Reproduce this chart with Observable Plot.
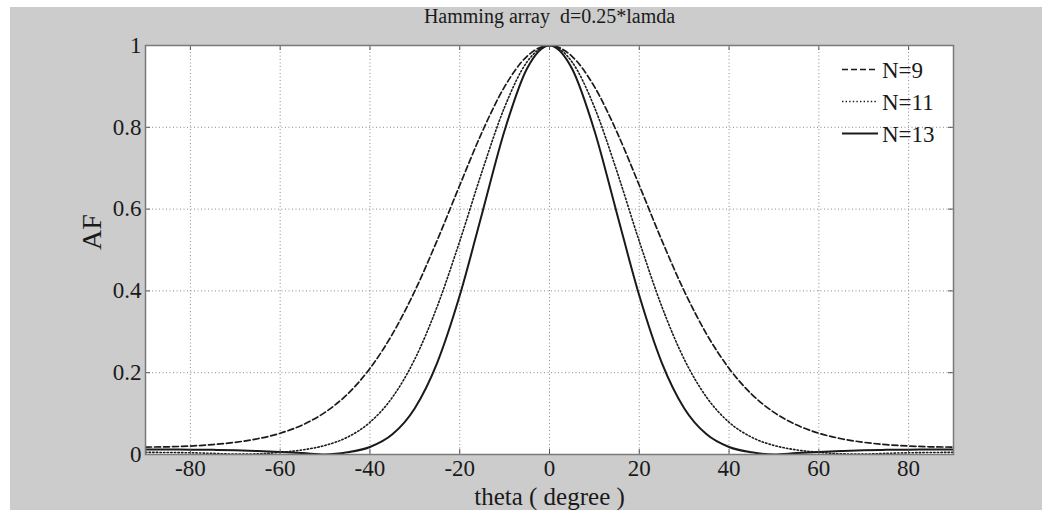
<!DOCTYPE html>
<html><head><meta charset="utf-8">
<script src="https://cdn.jsdelivr.net/npm/d3@7"></script>
<script src="https://cdn.jsdelivr.net/npm/@observablehq/plot@0.6"></script>
<style>
html,body{margin:0;padding:0;background:#fff;}
#wrap{position:relative;width:1042px;height:510px;overflow:hidden;}
#bg{position:absolute;left:10px;top:7px;right:0;bottom:0;background:#cccccc;}
#chart{position:absolute;left:0;top:0;}
</style></head><body>
<div id="wrap"><div id="bg"></div><div id="chart"></div></div>
<script>
// theta (degree)
const theta = [-90,-85,-80,-75,-70,-65,-60,-55,-50,-45,-40,-35,-30,-25,-20,-15,-10,-5,0,5,10,15,20,25,30,35,40,45,50,55,60,65,70,75,80,85,90];
// Array factor, N=9
const af9 = [0.0182,0.0188,0.0207,0.0242,0.0298,0.0386,0.0520,0.0725,0.1031,0.1477,0.2105,0.2943,0.4000,0.5241,0.6582,0.7888,0.8994,0.9737,1,
             0.9737,0.8994,0.7888,0.6582,0.5241,0.4000,0.2943,0.2105,0.1477,0.1031,0.0725,0.0520,0.0386,0.0298,0.0242,0.0207,0.0188,0.0182];
// Array factor, N=11
const af11 = [0.0052,0.0049,0.0042,0.0028,0.0010,0.0016,0.0053,0.0113,0.0222,0.0424,0.0788,0.1398,0.2333,0.3624,0.5214,0.6929,0.8494,0.9600,1,
              0.9600,0.8494,0.6929,0.5214,0.3624,0.2333,0.1398,0.0788,0.0424,0.0222,0.0113,0.0053,0.0016,0.0010,0.0028,0.0042,0.0049,0.0052];
// Array factor, N=13
const af13 = [0.0122,0.0121,0.0119,0.0114,0.0103,0.0085,0.0062,0.0035,0.0002,0.0053,0.0183,0.0493,0.1133,0.2247,0.3886,0.5901,0.7921,0.9436,1,
              0.9436,0.7921,0.5901,0.3886,0.2247,0.1133,0.0493,0.0183,0.0053,0.0002,0.0035,0.0062,0.0085,0.0103,0.0114,0.0119,0.0121,0.0122];

const seriesNames = ["N=9","N=11","N=13"];
const xTicks = [-80,-60,-40,-20,0,20,40,60,80];
const yTicks = [0,0.2,0.4,0.6,0.8,1];
const titleText = "Hamming array \u00a0d=0.25*lamda";
const xLabel = "theta ( degree )";
const yLabel = "AF";

const dashes = ["6,3","1.4,2.2",null];
const widths = [1.7,1.6,2];
const seriesVals = [af9, af11, af13];
const rowsOf = vals => theta.map((t,i) => ({theta: t, af: vals[i]}));

const ink = "#1a1a1a";
const font = "'Liberation Serif','Times New Roman',serif";

const plot = Plot.plot({
  width: 1042, height: 510,
  marginLeft: 145, marginRight: 89, marginTop: 45, marginBottom: 56,
  style: {background: "transparent", fontFamily: font, color: ink},
  x: {domain: [-90, 90]},
  y: {domain: [0, 1]},
  marks: [
    Plot.frame({fill: "white", stroke: null}),
    Plot.gridX(xTicks, {stroke: "#8a8a8a", strokeOpacity: 1, strokeDasharray: "1,2.5"}),
    Plot.gridY(yTicks, {stroke: "#8a8a8a", strokeOpacity: 1, strokeDasharray: "1,2.5"}),
    ...seriesVals.map((vals, k) => Plot.line(rowsOf(vals), {
      x: "theta", y: "af", curve: "monotone-x", stroke: ink,
      strokeWidth: widths[k], strokeDasharray: dashes[k], clip: true
    })),
    Plot.ruleX(xTicks, {x: d => d, insetTop: 404, stroke: "#555"}),
    Plot.ruleX(xTicks, {x: d => d, insetBottom: 404, stroke: "#555"}),
    Plot.ruleY(yTicks, {y: d => d, insetRight: 803, stroke: "#555"}),
    Plot.ruleY(yTicks, {y: d => d, insetLeft: 803, stroke: "#555"}),
    Plot.frame({stroke: "#7a7a7a", strokeWidth: 1.5}),
    Plot.axisX(xTicks, {tickSize: 0, tickPadding: 5, fontSize: 23, tickFormat: d => String(d), label: null, fill: ink}),
    Plot.axisY(yTicks, {tickSize: 0, tickPadding: 4, fontSize: 23, tickFormat: d => String(d), label: null, fill: ink}),
    Plot.text([titleText], {text: d => d, frameAnchor: "top", dy: -23, lineAnchor: "bottom", fontSize: 20, fill: ink}),
    Plot.text([xLabel], {text: d => d, frameAnchor: "bottom", dy: 50.5, lineAnchor: "bottom", fontSize: 25, fill: ink}),
    Plot.text([yLabel], {text: d => d, frameAnchor: "left", dx: -45, rotate: -90, lineAnchor: "bottom", fontSize: 28, fill: ink})
  ]
});
document.getElementById("chart").appendChild(plot);

// Legend (inside the axes, top right)
const leg = d3.select("#wrap").append("svg")
  .attr("width", 1042).attr("height", 510)
  .style("position", "absolute").style("left", "0px").style("top", "0px");
seriesNames.forEach((name, k) => {
  const cy = 69.5 + k * 32;
  leg.append("line").attr("x1", 842).attr("x2", 878).attr("y1", cy).attr("y2", cy)
    .attr("stroke", ink).attr("stroke-width", widths[k])
    .attr("stroke-dasharray", dashes[k] || null);
  leg.append("text").attr("x", 882).attr("y", cy + 8.5)
    .attr("font-family", font).attr("font-size", 23).attr("fill", ink).text(name);
});
</script>
</body></html>
